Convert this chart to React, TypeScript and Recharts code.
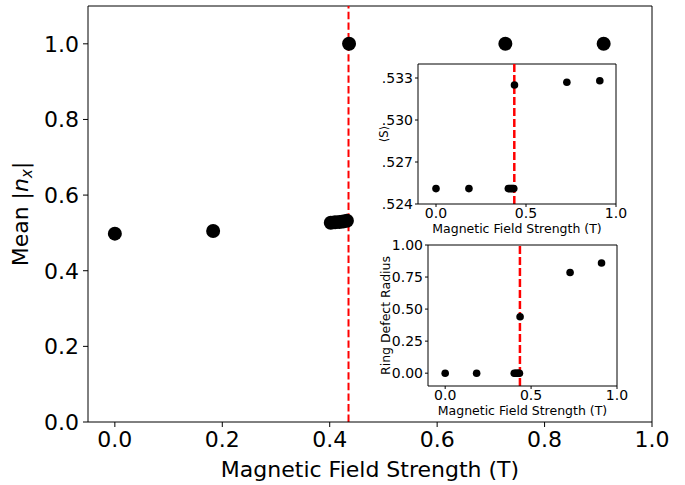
import React from 'react';
import { ScatterChart, Scatter, XAxis, YAxis, ReferenceLine, Label } from 'recharts';

// applied field (T) for every run
const fieldStrength = [0, 0.183, 0.402, 0.41, 0.418, 0.425, 0.432, 0.436, 0.727, 0.91];
// main panel: mean |n_x|
const meanNx = [0.498, 0.505, 0.527, 0.528, 0.529, 0.53, 0.532, 1.0, 1.0, 1.0];
// inset 1: order parameter <S>
const orderS = [0.5251, 0.5251, 0.5251, 0.5251, 0.5251, 0.5251, 0.5251, 0.5325, 0.5327, 0.5328];
// inset 2: ring defect radius
const ringRadius = [0, 0, 0, 0, 0, 0, 0, 0.44, 0.785, 0.86];

const transitionField = 0.435;

const mainTicksX = [0, 0.2, 0.4, 0.6, 0.8, 1.0];
const mainTicksY = [0, 0.2, 0.4, 0.6, 0.8, 1.0];
const insetTicksX = [0, 0.5, 1.0];
const orderTicks = [0.524, 0.527, 0.53, 0.533];
const radiusTicks = [0, 0.25, 0.5, 0.75, 1.0];

const FONT = '"DejaVu Sans", sans-serif';
const RED = '#ff0000';

const dot = (r: number) => (props: any) => (
  <circle cx={props.cx} cy={props.cy} r={r} fill="#000" />
);

const XTitle = ({ viewBox, text, size, dy }: any) => {
  const { x, y, width } = viewBox;
  return (
    <text x={x + width / 2} y={y + dy} textAnchor="middle" fontSize={size} fill="#000">
      {text}
    </text>
  );
};

const YTitle = ({ viewBox, size, dx, children }: any) => {
  const { x, y, height } = viewBox;
  const cx = x + dx;
  const cy = y + height / 2;
  return (
    <text x={cx} y={cy} transform={`rotate(-90, ${cx}, ${cy})`} textAnchor="middle" fontSize={size} fill="#000">
      {children}
    </text>
  );
};

export default function App() {
  const mainData = fieldStrength.map((b, i) => ({ b, v: meanNx[i] }));
  const sData = fieldStrength.map((b, i) => ({ b, v: orderS[i] }));
  const rData = fieldStrength.map((b, i) => ({ b, v: ringRadius[i] }));

  const axisStroke = { stroke: '#000', strokeWidth: 1 };
  const mainTick = { fill: '#000', fontSize: 22 };
  const insetTick = { fill: '#000', fontSize: 14 };

  return (
    <div style={{ position: 'fixed', left: 0, top: 0, width: 685, height: 485, background: '#fff', fontFamily: FONT }}>
      <ScatterChart width={685} height={485} margin={{ top: 6, right: 33, bottom: 0, left: 0 }}>
        <XAxis
          type="number"
          dataKey="b"
          domain={[-0.05, 1.0]}
          ticks={mainTicksX}
          tickFormatter={(v: number) => v.toFixed(1)}
          height={63}
          tickSize={5}
          tickMargin={4}
          axisLine={axisStroke}
          tickLine={axisStroke}
          tick={mainTick}
          allowDataOverflow
        >
          <Label content={<XTitle text="Magnetic Field Strength (T)" size={22} dy={55} />} />
        </XAxis>
        <YAxis
          type="number"
          dataKey="v"
          domain={[0, 1.1]}
          ticks={mainTicksY}
          tickFormatter={(v: number) => v.toFixed(1)}
          width={88}
          tickSize={5}
          tickMargin={4}
          axisLine={axisStroke}
          tickLine={axisStroke}
          tick={mainTick}
          allowDataOverflow
        >
          <Label
            content={
              <YTitle size={22} dx={28}>
                <tspan>Mean |</tspan>
                <tspan fontStyle="italic">n</tspan>
                <tspan fontStyle="italic" fontSize={15} dy={4}>x</tspan>
                <tspan dy={-4}>|</tspan>
              </YTitle>
            }
          />
        </YAxis>
        <ReferenceLine x={1.0} stroke="#000" />
        <ReferenceLine y={1.1} stroke="#000" />
        <ReferenceLine x={transitionField} stroke={RED} strokeWidth={2} strokeDasharray="7.4 3.2" />
        <Scatter data={mainData} shape={dot(7)} isAnimationActive={false} />
      </ScatterChart>

      {/* inset: order parameter */}
      <div style={{ position: 'absolute', left: 360, top: 55 }}>
        <ScatterChart width={270} height={185} margin={{ top: 9, right: 14, bottom: 0, left: 0 }}>
          <XAxis
            type="number"
            dataKey="b"
            domain={[-0.1, 1.0]}
            ticks={insetTicksX}
            tickFormatter={(v: number) => v.toFixed(1)}
            height={36}
            tickSize={3}
            tickMargin={1}
            axisLine={axisStroke}
            tickLine={axisStroke}
            tick={insetTick}
            allowDataOverflow
          >
            <Label content={<XTitle text="Magnetic Field Strength (T)" size={12.5} dy={29} />} />
          </XAxis>
          <YAxis
            type="number"
            dataKey="v"
            domain={[0.524, 0.534]}
            ticks={orderTicks}
            tickFormatter={(v: number) => v.toFixed(3).slice(1)}
            width={58}
            tickSize={3}
            tickMargin={2}
            axisLine={axisStroke}
            tickLine={axisStroke}
            tick={insetTick}
            allowDataOverflow
          >
            <Label content={<YTitle size={11.5} dx={28}>⟨S⟩</YTitle>} />
          </YAxis>
          <ReferenceLine x={1.0} stroke="#000" />
          <ReferenceLine y={0.534} stroke="#000" />
          <ReferenceLine x={transitionField} stroke={RED} strokeWidth={2.5} strokeDasharray="8 3" />
          <Scatter data={sData} shape={dot(3.8)} isAnimationActive={false} />
        </ScatterChart>
      </div>

      {/* inset: ring defect radius */}
      <div style={{ position: 'absolute', left: 360, top: 236 }}>
        <ScatterChart width={270} height={185} margin={{ top: 9, right: 13, bottom: 0, left: 0 }}>
          <XAxis
            type="number"
            dataKey="b"
            domain={[-0.1, 1.0]}
            ticks={insetTicksX}
            tickFormatter={(v: number) => v.toFixed(1)}
            height={35}
            tickSize={3}
            tickMargin={1}
            axisLine={axisStroke}
            tickLine={axisStroke}
            tick={insetTick}
            allowDataOverflow
          >
            <Label content={<XTitle text="Magnetic Field Strength (T)" size={12.5} dy={29} />} />
          </XAxis>
          <YAxis
            type="number"
            dataKey="v"
            domain={[-0.1, 1.0]}
            ticks={radiusTicks}
            tickFormatter={(v: number) => v.toFixed(2)}
            width={68}
            tickSize={3}
            tickMargin={2}
            axisLine={axisStroke}
            tickLine={axisStroke}
            tick={insetTick}
            allowDataOverflow
          >
            <Label content={<YTitle size={12.5} dx={30}>Ring Defect Radius</YTitle>} />
          </YAxis>
          <ReferenceLine x={1.0} stroke="#000" />
          <ReferenceLine y={1.0} stroke="#000" />
          <ReferenceLine x={transitionField} stroke={RED} strokeWidth={2.5} strokeDasharray="8 3" />
          <Scatter data={rData} shape={dot(3.8)} isAnimationActive={false} />
        </ScatterChart>
      </div>
    </div>
  );
}
